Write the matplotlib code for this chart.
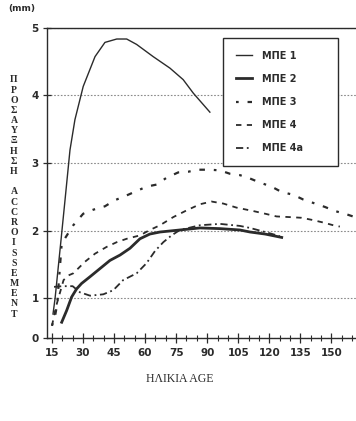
import numpy as np
import matplotlib
matplotlib.use('Agg')
import matplotlib.pyplot as plt
from matplotlib.ticker import FixedLocator, MultipleLocator

# values (age in days, growth in mm)
mpe1_x = [15.5, 16.5, 19.2, 21.3, 23.7, 26.1, 30.1, 35.8, 40.6, 46.3, 51.1, 55.9, 63.9, 72.0, 78.4, 83.3, 91.3]
mpe1_y = [0.6, 1.0, 1.81, 2.45, 3.19, 3.64, 4.13, 4.57, 4.78, 4.83, 4.83, 4.75, 4.57, 4.40, 4.23, 4.03, 3.75]

mpe2_x = [19.7, 22.1, 24.5, 26.9, 29.3, 33.4, 38.2, 43.0, 47.9, 52.7, 57.5, 62.3, 67.2, 76.8, 86.5, 96.2, 105.8, 110.7, 118.0, 126.0]
mpe2_y = [0.39, 0.69, 1.02, 1.14, 1.22, 1.32, 1.44, 1.56, 1.64, 1.74, 1.88, 1.95, 1.98, 2.01, 2.04, 2.03, 2.01, 1.98, 1.95, 1.90]

mpe3_x = [15.0, 16.5, 17.5, 19.7, 25.3, 30.1, 35.0, 40.6, 45.4, 50.3, 60.7, 65.5, 70.3, 76.0, 80.8, 85.6, 91.3, 96.2, 101.0, 105.8,
          110.7, 115.5, 121.1, 126.0, 131.6, 136.4, 141.2, 146.9, 151.7, 156.5, 161.4, 166.0]
mpe3_y = [0.30, 0.55, 0.85, 1.81, 2.08, 2.25, 2.31, 2.36, 2.45, 2.51, 2.65, 2.68, 2.78, 2.86, 2.87, 2.90, 2.90, 2.89, 2.84, 2.82,
          2.77, 2.71, 2.65, 2.57, 2.53, 2.46, 2.41, 2.35, 2.29, 2.25, 2.20, 2.16]

mpe4_x = [15.0, 17.0, 20.6, 23.0, 25.3, 30.9, 35.8, 41.4, 46.3, 51.1, 57.5, 62.3, 67.2, 73.6, 80.1, 86.5, 92.1, 97.8, 104.2, 112.2,
          118.0, 123.5, 130.0, 135.6, 140.5, 146.1, 150.9, 154.1]
mpe4_y = [0.30, 0.80, 1.27, 1.34, 1.37, 1.54, 1.66, 1.76, 1.83, 1.88, 1.93, 2.01, 2.08, 2.20, 2.30, 2.39, 2.43, 2.40, 2.34, 2.29,
          2.25, 2.21, 2.20, 2.19, 2.16, 2.12, 2.08, 2.06]

mpe4a_x = [16.0, 20.0, 25.0, 28.5, 33.4, 39.8, 44.6, 49.4, 55.9, 60.7, 64.8, 68.8, 72.8, 76.8, 86.5, 96.2, 105.8, 110.7, 118.0, 125.0]
mpe4a_y = [1.17, 1.18, 1.18, 1.09, 1.04, 1.06, 1.12, 1.27, 1.37, 1.52, 1.70, 1.83, 1.93, 2.01, 2.08, 2.10, 2.07, 2.04, 1.98, 1.92]

labels = ['ΜΠΕ 1', 'ΜΠΕ 2', 'ΜΠΕ 3', 'ΜΠΕ 4', 'ΜΠΕ 4a']
x_ticks = [15, 30, 45, 60, 75, 90, 105, 120, 135, 150]
y_ticks = [0, 1, 2, 3, 4, 5]

INK = '#2b2b2b'
K = 39 / 67.5  # the 0-1 band is squeezed on the original scan

def fwd(y):
    y = np.asarray(y, dtype=float)
    return np.where(y < 1, y * K, K + (y - 1))

def inv(t):
    t = np.asarray(t, dtype=float)
    return np.where(t < K, t / K, t - K + 1)

fig = plt.figure(figsize=(3.56, 4.21), dpi=100)
# plot area runs off the right edge of the scan
ax = fig.add_axes([47 / 356, 1 - 337.5 / 421, 309 / 356, 310 / 421])
ax.set_yscale('function', functions=(fwd, inv))

ax.plot(mpe1_x, mpe1_y, color=INK, lw=1.0, label=labels[0])
ax.plot(mpe2_x, mpe2_y, color=INK, lw=2.0, label=labels[1])
ax.plot(mpe3_x, mpe3_y, color=INK, lw=1.6, ls=(0, (1.2, 4, 2.5, 4)), label=labels[2])
ax.plot(mpe4_x, mpe4_y, color=INK, lw=1.3, ls=(0, (3, 3)), label=labels[3])
ax.plot(mpe4a_x, mpe4a_y, color=INK, lw=1.3, ls=(0, (4, 2, 1, 2)), label=labels[4])

ax.set_xlim(12.6, 161.9)
ax.set_ylim(0, 5)
ax.xaxis.set_major_locator(FixedLocator(x_ticks))
ax.xaxis.set_minor_locator(MultipleLocator(5))
ax.yaxis.set_major_locator(FixedLocator(y_ticks))
ax.yaxis.set_minor_locator(FixedLocator([]))
ax.set_yticklabels([str(v) for v in y_ticks])
ax.set_xticklabels([str(v) for v in x_ticks])

ax.tick_params(axis='x', which='major', direction='inout', length=7, width=0.9, pad=4,
               labelsize=7.5, colors=INK)
ax.tick_params(axis='x', which='minor', direction='inout', length=4, width=0.8, colors=INK)
ax.tick_params(axis='y', which='major', direction='inout', length=6, width=0.9, pad=3,
               labelsize=7.5, colors=INK)
for lab in ax.get_xticklabels() + ax.get_yticklabels():
    lab.set_fontweight('bold')

ax.grid(axis='y', color='#8a8a8a', lw=0.8, ls=(0, (1.5, 1.5)))
for s in ['left', 'bottom', 'top']:
    ax.spines[s].set_color(INK)
    ax.spines[s].set_linewidth(1.0)
ax.spines['right'].set_visible(False)

leg = ax.legend(loc='upper left', bbox_to_anchor=(176 / 309, 0.966, 115 / 309, 0.0), mode='expand',
                fontsize=7, frameon=True, fancybox=False, edgecolor=INK, framealpha=1,
                handlelength=1.7, handletextpad=1.0, labelspacing=1.35, borderpad=1.3,
                borderaxespad=0)
leg.get_frame().set_linewidth(1.0)
for t in leg.get_texts():
    t.set_fontweight('bold')
    t.set_color(INK)

fig.text(22 / 356, 1 - 9 / 421, '(mm)', fontsize=6.5, fontweight='bold', ha='center', va='center', color=INK)

ylab = '\n'.join(list('ΠΡΟΣΑΥΞΗΣΗ') + [''] + list('ACCROISSEMENT'))
fig.text(14 / 356, 1 - 197 / 421, ylab, fontsize=7, fontweight='bold', family='Liberation Serif',
         ha='center', va='center', multialignment='center', linespacing=1.17, color=INK)

fig.text(180 / 356, 1 - 379 / 421, 'ΗΛΙΚΙΑ AGE', fontsize=8.5, family='Liberation Serif',
         ha='center', va='center', color=INK)

fig.savefig('out.png', dpi=100, facecolor='white')
